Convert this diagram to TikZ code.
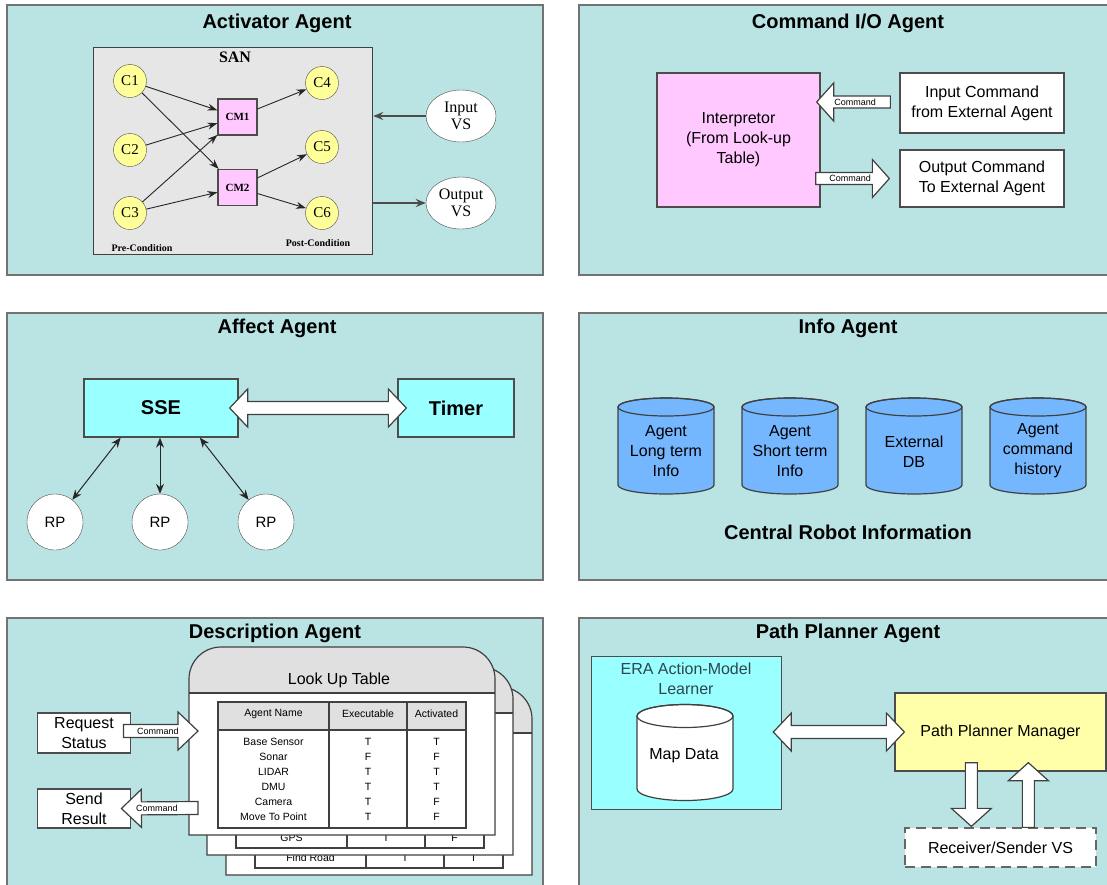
\documentclass[tikz,border=0pt]{standalone}
\usepackage{fontspec}
\setmainfont{Liberation Sans}
\newfontfamily\serifface{Liberation Serif}
\usetikzlibrary{shapes.geometric,arrows.meta,calc}

\definecolor{panelbg}{RGB}{186,228,228}
\definecolor{sangray}{RGB}{230,230,230}
\definecolor{condyellow}{RGB}{255,255,153}
\definecolor{cmpink}{RGB}{255,200,255}
\definecolor{aqua}{RGB}{153,255,255}
\definecolor{dbblue}{RGB}{117,183,255}
\definecolor{mgryellow}{RGB}{255,255,170}
\definecolor{hdrgray}{RGB}{224,224,224}
\definecolor{eratext}{RGB}{45,70,80}

\newcommand\bodytext{\fontsize{16}{20}\selectfont}

% hollow block arrow: [options]{tail}{tip}{shaft half width}{head half width}{head length}
\newcommand\blockarrow[6][]{%
  \coordinate (ba-h) at ($(#3)!#6pt!(#2)$);
  \draw[blockstyle,#1] ($(#2)!#4pt!90:(#3)$) -- ($(ba-h)!#4pt!-90:(#2)$)
    -- ($(ba-h)!#5pt!-90:(#2)$) -- (#3) -- ($(ba-h)!#5pt!90:(#2)$)
    -- ($(ba-h)!#4pt!90:(#2)$) -- ($(#2)!#4pt!-90:(#3)$) -- cycle;
}
% hollow block arrow with a head at both ends
\newcommand\dblockarrow[6][]{%
  \coordinate (ba-a) at ($(#2)!#6pt!(#3)$);
  \coordinate (ba-b) at ($(#3)!#6pt!(#2)$);
  \draw[blockstyle,#1] (#2) -- ($(ba-a)!#5pt!90:(#3)$) -- ($(ba-a)!#4pt!90:(#3)$)
    -- ($(ba-b)!#4pt!-90:(#2)$) -- ($(ba-b)!#5pt!-90:(#2)$) -- (#3)
    -- ($(ba-b)!#5pt!90:(#2)$) -- ($(ba-b)!#4pt!90:(#2)$)
    -- ($(ba-a)!#4pt!-90:(#3)$) -- ($(ba-a)!#5pt!-90:(#3)$) -- cycle;
}
% database drum: {cx}{top y}{bottom y}{half width}{cap radius}{fill}
\newcommand\dbdrum[6]{%
  \draw[drum,fill=#6] (#1-#4,#2) -- (#1-#4,#3)
    arc[start angle=180,end angle=0,x radius=#4,y radius=#5] -- (#1+#4,#2)
    arc[start angle=0,end angle=-180,x radius=#4,y radius=#5] -- cycle;
  \draw[drum] (#1,#2) ellipse[x radius=#4,y radius=#5];
}
% look-up table sheet outline with rounded top
\newcommand\sheetpath{(189,835) -- (189,679) arc[start angle=180,end angle=270,radius=32]
  -- (463,647) arc[start angle=270,end angle=360,radius=32] -- (495,835) -- cycle}
\newcommand\sheethead{(189,693) -- (189,679) arc[start angle=180,end angle=270,radius=32]
  -- (463,647) arc[start angle=270,end angle=360,radius=32] -- (495,693) -- cycle}
\newcommand\sheettable{%
  \draw[tbl] (218,702) rectangle (466,828);
  \draw[tbl] (218,730) -- (466,730) (329,702) -- (329,828) (407,702) -- (407,828);
}

\tikzset{
  panel/.style={draw=black!55, fill=panelbg, line width=1.6},
  paneltitle/.style={font=\fontsize{20}{24}\selectfont\bfseries, inner sep=0},
  box/.style={draw=black!70, line width=1.3, align=center, font=\bodytext, inner sep=0},
  blockstyle/.style={draw=black!75, fill=white, line width=1.2, line join=miter},
  cmdlabel/.style={font=\fontsize{9}{9}\selectfont, inner sep=0},
  cond/.style={circle, draw=black!70, fill=condyellow, minimum size=33, inner sep=0,
    font=\serifface\fontsize{15}{15}\selectfont},
  cmbox/.style={rectangle, draw=black!70, line width=1.1, fill=cmpink, minimum width=39,
    minimum height=36, inner sep=0, font=\serifface\fontsize{11}{11}\selectfont\bfseries},
  sanlink/.style={draw=black!85, line width=0.9, -{Stealth[length=10,width=7]}},
  feed/.style={draw=black!70, line width=1.8, -{Stealth[length=10,width=8]}},
  vsnode/.style={ellipse, draw=black!70, fill=white, minimum width=70, minimum height=52,
    inner sep=0, align=center, font=\serifface\fontsize{16}{17}\selectfont},
  smallserif/.style={font=\serifface\fontsize{10}{10}\selectfont\bfseries, inner sep=0},
  rpnode/.style={circle, draw=black!70, fill=white, minimum size=56, inner sep=0,
    font=\fontsize{15}{15}\selectfont},
  twoway/.style={draw=black!85, line width=1, {Stealth[length=10,width=8]}-{Stealth[length=10,width=8]}},
  drum/.style={draw=black!75, line width=1.2},
  drumtext/.style={align=center, font=\bodytext, inner sep=0},
  tbl/.style={draw=black!75, line width=1.2},
  pageline/.style={draw=black!75, line width=1.2},
  tcell/.style={font=\fontsize{10.5}{12}\selectfont, inner sep=0},
}

\begin{document}
\begin{tikzpicture}[x=1pt,y=-1pt]
\useasboundingbox (0,0) rectangle (1107,884);
\clip (0,0) rectangle (1107,884);
\fill[white] (0,0) rectangle (1107,884);

% ---------- panels ----------
\draw[panel] (7,5) rectangle (543,275);
\draw[panel] (579,5) rectangle (1120,275);
\draw[panel] (7,313) rectangle (543,580);
\draw[panel] (579,313) rectangle (1120,580);
\draw[panel] (7,618) rectangle (543,895);
\draw[panel] (579,618) rectangle (1120,895);

\node[paneltitle] (t1) at (277,23) {Activator Agent};
\node[paneltitle] (t2) at (848,23) {Command I/O Agent};
\node[paneltitle] (t3) at (277,328) {Affect Agent};
\node[paneltitle] (t4) at (848,328) {Info Agent};
\node[paneltitle] (t5) at (275,633) {Description Agent};
\node[paneltitle] (t6) at (848,633) {Path Planner Agent};

% ---------- Activator Agent ----------
\node[draw=black!75, line width=1.2, fill=sangray, minimum width=279, minimum height=207,
  anchor=north west, inner sep=0] (san) at (93,47) {};
\node[font=\serifface\fontsize{16}{16}\selectfont\bfseries, inner sep=0] (santitle) at (235,57) {SAN};
\node[cond] (c1) at (130,81) {C1};
\node[cond] (c2) at (130,150) {C2};
\node[cond] (c3) at (130,213) {C3};
\node[cond] (c4) at (322,83) {C4};
\node[cond] (c5) at (322,147) {C5};
\node[cond] (c6) at (322,213) {C6};
\node[cmbox] (cm1) at (237.5,117) {CM1};
\node[cmbox] (cm2) at (237.5,187.5) {CM2};
\draw[sanlink] (c1) -- (cm1);
\draw[sanlink] (c1) -- (cm2);
\draw[sanlink] (c2) -- (cm1);
\draw[sanlink] (c3) -- (cm1);
\draw[sanlink] (c3) -- (cm2);
\draw[sanlink] (cm1) -- (c4);
\draw[sanlink] (cm2) -- (c5);
\draw[sanlink] (cm2) -- (c6);
\node[smallserif] (pre) at (142,248) {Pre-Condition};
\node[smallserif] (post) at (318,243) {Post-Condition};
\node[vsnode] (invs) at (461,116) {Input\\VS};
\node[vsnode] (outvs) at (461,203) {Output\\VS};
\draw[feed] (invs.west) -- (invs.west -| san.east);
\draw[feed] (san.east |- outvs.west) -- (outvs.west);

% ---------- Command I/O Agent ----------
\node[box, fill=cmpink, minimum width=163, minimum height=134] (interp) at (738.5,140)
  {Interpretor\\(From Look-up\\Table)};
\node[box, fill=white, minimum width=164, minimum height=60] (inbox) at (982,103)
  {Input Command\\from External Agent};
\node[box, fill=white, minimum width=164, minimum height=57] (outbox) at (982,178.5)
  {Output Command\\To External Agent};
\coordinate (cmdInTail) at ($(inbox.west)+(-9,-1)$);
\coordinate (cmdInTip) at ($(interp.east |- inbox.west)+(-4,-1)$);
\blockarrow{cmdInTail}{cmdInTip}{6}{19}{17}
\node[cmdlabel] (cmdInLbl) at (855,102) {Command};
\coordinate (cmdOutTail) at ($(interp.east |- outbox.west)+(-5,0)$);
\coordinate (cmdOutTip) at ($(outbox.west)+(-10,0)$);
\blockarrow{cmdOutTail}{cmdOutTip}{6}{19}{17}
\node[cmdlabel] (cmdOutLbl) at (850,178) {Command};

% ---------- Affect Agent ----------
\node[box, fill=aqua, minimum width=154, minimum height=58,
  font=\fontsize{20}{24}\selectfont\bfseries] (sse) at (161,408) {SSE};
\node[box, fill=aqua, minimum width=116, minimum height=58,
  font=\fontsize{20}{24}\selectfont\bfseries] (timer) at (456,408) {Timer};
\coordinate (sseR) at ($(sse.east)+(-9,0)$);
\coordinate (timerL) at ($(timer.west)+(9,0)$);
\dblockarrow{sseR}{timerL}{6.5}{19}{18}
\node[rpnode] (rp1) at (55,522) {RP};
\node[rpnode] (rp2) at (160,522) {RP};
\node[rpnode] (rp3) at (266,522) {RP};
\coordinate (sseA) at ($(sse.south west)!0.24!(sse.south east)$);
\coordinate (sseC) at (sse.south -| rp2);
\coordinate (sseB) at ($(sse.south west)!0.75!(sse.south east)$);
\draw[twoway] (sseA) -- (rp1);
\draw[twoway] (sseC) -- (rp2);
\draw[twoway] (sseB) -- (rp3);

% ---------- Info Agent ----------
\dbdrum{666}{407}{485}{48}{9}{dbblue}
\dbdrum{790}{407}{485}{48}{9}{dbblue}
\dbdrum{914}{407}{485}{48}{9}{dbblue}
\dbdrum{1038}{407}{485}{48}{9}{dbblue}
\node[drumtext] (db1) at (666,451) {Agent\\Long term\\Info};
\node[drumtext] (db2) at (790,451) {Agent\\Short term\\Info};
\node[drumtext] (db3) at (914,452) {External\\DB};
\node[drumtext] (db4) at (1038,451) {Agent\\command\\history};
\node[paneltitle] (cri) at (848,532) {Central Robot Information};

% ---------- Description Agent ----------
% rear sheets
\begin{scope}[shift={(37,40)}]
  \fill[white] \sheetpath;
  \fill[hdrgray] \sheethead;
  \draw[pageline] \sheetpath;
  \draw[pageline] (189,693) -- (495,693);
  \sheettable
  \node[tcell] (r3a) at (273.5,818) {Find Road};
  \node[tcell] (r3b) at (368,818) {T};
  \node[tcell] (r3c) at (436.5,818) {T};
\end{scope}
\begin{scope}[shift={(18,20)}]
  \fill[white] \sheetpath;
  \fill[hdrgray] \sheethead;
  \draw[pageline] \sheetpath;
  \draw[pageline] (189,693) -- (495,693);
  \sheettable
  \node[tcell] (r2a) at (273.5,818) {GPS};
  \node[tcell] (r2b) at (368,818) {T};
  \node[tcell] (r2c) at (436.5,818) {F};
\end{scope}
% front sheet
\fill[white] \sheetpath;
\fill[hdrgray] \sheethead;
\draw[pageline] \sheetpath;
\draw[pageline] (189,693) -- (495,693);
\node[font=\bodytext, inner sep=0] (lut) at (339,680) {Look Up Table};
\fill[hdrgray] (218,702) rectangle (466,730);
\sheettable
\node[tcell] (h1) at (273.5,714) {Agent Name};
\node[tcell] (h2) at (368,714) {Executable};
\node[tcell] (h3) at (436.5,714) {Activated};
\foreach \nm/\ex/\ac [count=\i] in {Base Sensor/T/T, Sonar/F/F, LIDAR/T/T, DMU/T/T,
    Camera/T/F, Move To Point/T/F} {
  \node[tcell] (ra\i) at (273.5,742+15*\i-15) {\nm};
  \node[tcell] (rb\i) at (368,742+15*\i-15) {\ex};
  \node[tcell] (rc\i) at (436.5,742+15*\i-15) {\ac};
}
\node[box, fill=white, minimum width=93.5, minimum height=40] (req) at (84,733) {Request\\Status};
\node[box, fill=white, minimum width=93.5, minimum height=39] (send) at (84,808.5) {Send\\Result};
\coordinate (reqTail) at ($(req.east)+(-8,-2)$);
\coordinate (reqTip) at (198,731);
\blockarrow{reqTail}{reqTip}{6.5}{19}{20}
\node[cmdlabel] (reqLbl) at (158,731) {Command};
\coordinate (sendTail) at (198,808);
\coordinate (sendTip) at ($(send.east)+(-10,0)$);
\blockarrow{sendTail}{sendTip}{6.5}{19}{20}
\node[cmdlabel] (sendLbl) at (157,808) {Command};

% ---------- Path Planner Agent ----------
\node[box, fill=aqua, minimum width=190, minimum height=153, anchor=north west] (era) at (591,656) {};
\node[align=center, font=\bodytext, text=eratext, inner sep=0] (eralbl) at (686,679)
  {ERA Action-Model\\Learner};
\dbdrum{685}{716}{789}{48}{11.5}{white}
\node[drumtext] (mapdata) at (684,756) {Map Data};
\node[box, fill=mgryellow, minimum width=211, minimum height=78] (ppm) at (1000.5,732)
  {Path Planner Manager};
\node[box, fill=white, minimum width=191, minimum height=39, draw=black!60,
  dash pattern=on 10pt off 6pt] (rs) at (1000.5,847.5) {Receiver/Sender VS};
\coordinate (eraR) at ($(era.east |- ppm.west)+(-9,0)$);
\coordinate (ppmL) at ($(ppm.west)+(10,0)$);
\dblockarrow{eraR}{ppmL}{6.5}{19}{18}
\coordinate (downTail) at ($(ppm.south west)+(77,-9)$);
\coordinate (downTip) at ($(rs.north west)+(67,-1)$);
\blockarrow{downTail}{downTip}{6}{20}{18}
\coordinate (upTail) at ($(rs.north west)+(124,0)$);
\coordinate (upTip) at ($(ppm.south west)+(134,-9)$);
\blockarrow{upTail}{upTip}{6}{20}{18}
\end{tikzpicture}
\end{document}
